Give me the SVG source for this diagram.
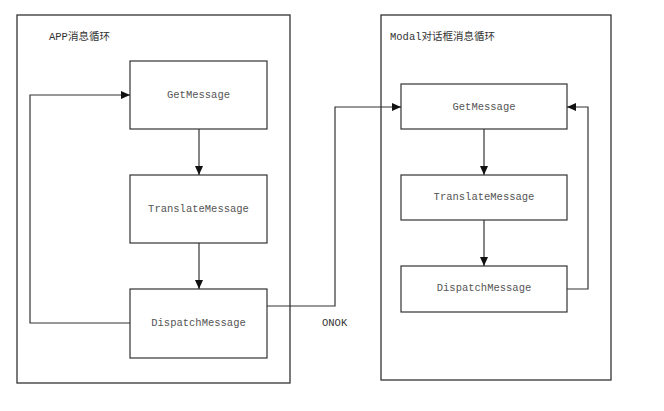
<svg xmlns="http://www.w3.org/2000/svg" width="664" height="411" viewBox="0 0 664 411">
<style>
.box{fill:#fff;stroke:#333;stroke-width:1.2}
.frame{fill:none;stroke:#333;stroke-width:1.3}
.t{font-family:"Liberation Mono","Noto Sans CJK SC",monospace;font-size:10.5px;fill:#555;text-anchor:middle;dominant-baseline:central}
.l{font-family:"Liberation Mono","Noto Sans CJK SC",monospace;font-size:10.5px;fill:#333;dominant-baseline:central}
.c{fill:none;stroke:#333;stroke-width:1.2}
</style>
<defs>
<marker id="a" markerWidth="9" markerHeight="8" refX="9" refY="4" orient="auto" markerUnits="userSpaceOnUse">
<path d="M0,0 L9,4 L0,8 Z" fill="#111"/>
</marker>
</defs>
<rect width="664" height="411" fill="#fff"/>
<g id="app-loop">
<rect class="frame" x="17" y="15" width="273" height="368"/>
<text class="l" x="49" y="37">APP消息循环</text>
</g>
<g id="modal-loop">
<rect class="frame" x="381" y="15" width="230" height="365"/>
<text class="l" x="390" y="37">Modal对话框消息循环</text>
</g>
<g id="app-get"><rect class="box" x="130" y="61" width="137" height="68"/><text class="t" x="198.5" y="95">GetMessage</text></g>
<g id="app-translate"><rect class="box" x="130" y="175" width="137" height="68"/><text class="t" x="198.5" y="209">TranslateMessage</text></g>
<g id="app-dispatch"><rect class="box" x="130" y="289" width="137" height="69"/><text class="t" x="198.5" y="323">DispatchMessage</text></g>
<g id="modal-get"><rect class="box" x="401" y="84" width="166" height="45"/><text class="t" x="484" y="107">GetMessage</text></g>
<g id="modal-translate"><rect class="box" x="401" y="175" width="166" height="45"/><text class="t" x="484" y="197">TranslateMessage</text></g>
<g id="modal-dispatch"><rect class="box" x="401" y="266" width="166" height="46"/><text class="t" x="484" y="288">DispatchMessage</text></g>
<g id="connectors">
<path class="c" d="M199,129 V175" marker-end="url(#a)"/>
<path class="c" d="M199,243 V289" marker-end="url(#a)"/>
<path class="c" d="M130,323 H30 V95 H130" marker-end="url(#a)"/>
<path class="c" d="M267,306 H335 V107 H401" marker-end="url(#a)"/>
<path class="c" d="M484,129 V175" marker-end="url(#a)"/>
<path class="c" d="M484,220 V266" marker-end="url(#a)"/>
<path class="c" d="M567,289 H588 V107 H567" marker-end="url(#a)"/>
<text class="l" x="322" y="323">ONOK</text>
</g>
</svg>
